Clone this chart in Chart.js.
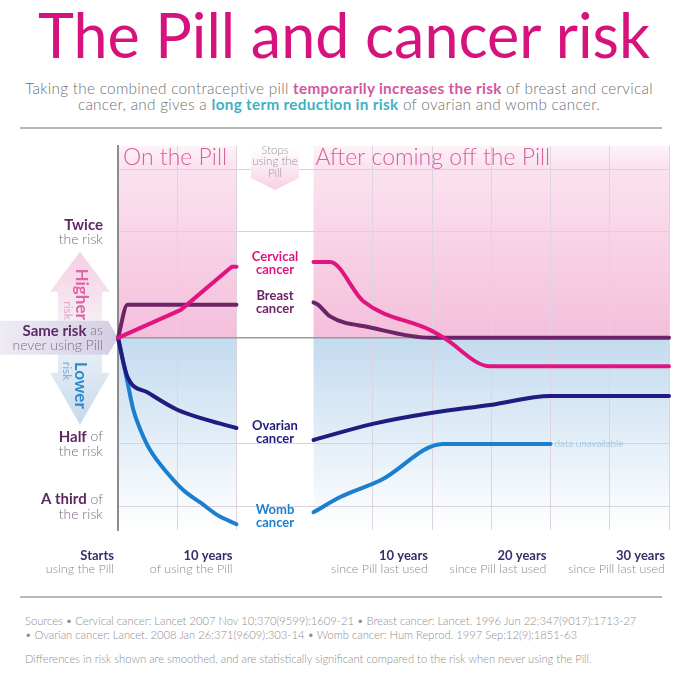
<!DOCTYPE html>
<html>
<head>
<meta charset="utf-8">
<script src="https://cdn.jsdelivr.net/npm/chart.js@4.4.1/dist/chart.umd.min.js"></script>
<style>
  body { margin: 0; background: #fff; font-family: Lato, "Open Sans", sans-serif; }
  #page { position: relative; width: 678px; height: 679px; overflow: hidden; }
  #title { position: absolute; left: 5px; width: 678px; top: -2px; text-align: center; font-size: 61px; color: #d6127d; white-space: nowrap; }
  #intro { position: absolute; left: 0; width: 678px; top: 80px; text-align: center; font-size: 15.3px; letter-spacing: 0.3px; line-height: 16px; color: #6f6f6f; font-weight: 300; }
  #intro .up { color: #d3569e; font-weight: 700; }
  #intro .down { color: #3fb1c5; font-weight: 700; }
  .rule { position: absolute; left: 20px; width: 642px; height: 0; border-top: 2px solid #b8b8b8; }
  #chartBox { position: absolute; left: 0; top: 130px; width: 678px; height: 465px; }
  #notes { position: absolute; left: 25px; top: 614px; font-size: 11.2px; line-height: 14px; color: #8e8e8e; font-weight: 300; }
  #notes p { margin: 0; white-space: nowrap; }
</style>
</head>
<body>
<div id="page">
  <div id="title">The Pill and cancer risk</div>
  <div id="intro">Taking the combined contraceptive pill <span class="up">temporarily increases the risk</span> of breast and cervical<br>cancer, and gives a <span class="down">long term reduction in risk</span> of ovarian and womb cancer.</div>
  <div class="rule" style="top:127px"></div>
  <div id="chartBox"><canvas id="pillChart" width="678" height="465"></canvas></div>
  <div class="rule" style="top:596px"></div>
  <div id="notes">
    <p>Sources • Cervical cancer: Lancet 2007 Nov 10;370(9599):1609-21 • Breast cancer: Lancet. 1996 Jun 22;347(9017):1713-27</p>
    <p>• Ovarian cancer: Lancet. 2008 Jan 26;371(9609):303-14 • Womb cancer: Hum Reprod. 1997 Sep;12(9):1851-63</p>
    <p style="margin-top:10px">Differences in risk shown are smoothed, and are statistically significant compared to the risk when never using the Pill.</p>
  </div>
</div>
<script>
// years on the pill, gap for "stops using", years after stopping
var PILL_YEARS = 10;
var GAP = 6.5;
var AFTER_YEARS = 30;

// relative risk against never using the Pill: [years, risk]
var cervicalOnPill = [[0, 1], [5.3, 1.2], [9.6, 1.59], [10, 1.59]];
var cervicalAfter = [[0, 1.64], [1.4, 1.64], [4.2, 1.27], [9.9, 1.05], [11, 1.0], [14.9, 0.83], [30, 0.83]];
var breastOnPill = [[0, 1], [0.8, 1.24], [10, 1.24]];
var breastAfter = [[0, 1.26], [0.4, 1.24], [1.4, 1.15], [4.8, 1.07], [9.9, 1.0], [30, 1.0]];
var ovarianOnPill = [[0, 1], [0.8, 0.775], [2.5, 0.70], [5, 0.625], [7.5, 0.585], [10, 0.555]];
var ovarianAfter = [[0, 0.513], [5, 0.57], [9.9, 0.612], [14.9, 0.645], [20, 0.684], [30, 0.684]];
var wombOnPill = [[0, 1], [0.76, 0.76], [1.3, 0.624], [1.9, 0.548], [2.7, 0.481], [4.15, 0.414], [5.5, 0.37], [7, 0.34], [8.4, 0.314], [10, 0.296]];
var wombAfter = [[0, 0.32], [2.3, 0.354], [5.7, 0.395], [10.9, 0.5], [20, 0.5]];

var riskTicks = [1 / 3, 0.5, 1, 2, 3];
var riskLabels = [["A third", " of", "the risk"], ["Half", " of", "the risk"], ["Same risk", " as", "never using Pill"], ["Twice", "", "the risk"]];
var riskLabelValues = [1 / 3, 0.5, 1, 2];
var timeTicks = [0, 10, 26.5, 36.5, 46.5];
var timeLabels = [["Starts", "using the Pill"], ["10 years", "of using the Pill"], ["10 years", "since Pill last used"], ["20 years", "since Pill last used"], ["30 years", "since Pill last used"]];

var cancers = [
  {name: "Cervical", color: "#e0157f", on: cervicalOnPill, after: cervicalAfter, straightOn: true},
  {name: "Breast", color: "#6c2367", on: breastOnPill, after: breastAfter},
  {name: "Ovarian", color: "#211a80", on: ovarianOnPill, after: ovarianAfter},
  {name: "Womb", color: "#1b7fcf", on: wombOnPill, after: wombAfter}
];

var FONT = "Lato, 'Open Sans', sans-serif";
function font(w, s) { return w + " " + s + "px " + FONT; }

function line(points, color, offset, straight) {
  var ds = {
    data: points.map(function(p) { return {x: offset + p[0], y: p[1]}; }),
    borderColor: color, borderWidth: 4, pointRadius: 0,
    borderCapStyle: "round", borderJoinStyle: "round", clip: false
  };
  if (straight) ds.tension = 0;
  else ds.cubicInterpolationMode = "monotone";
  return ds;
}

var datasets = [];
cancers.forEach(function(c) {
  datasets.push(line(c.on, c.color, 0, c.straightOn));
  datasets.push(line(c.after, c.color, PILL_YEARS + GAP, false));
});

var gridX = [0, 5, 10, 16.5, 21.5, 26.5, 31.5, 36.5, 41.5, 46.5];

function arrow(ctx, cx, tipY, baseY, headY, c0, c1) {
  var g = ctx.createLinearGradient(0, tipY, 0, baseY);
  g.addColorStop(0, c0); g.addColorStop(1, c1);
  ctx.fillStyle = g;
  ctx.beginPath();
  ctx.moveTo(cx, tipY);
  ctx.lineTo(cx + 30, headY);
  ctx.lineTo(cx + 22, headY);
  ctx.lineTo(cx + 22, baseY);
  ctx.lineTo(cx - 22, baseY);
  ctx.lineTo(cx - 22, headY);
  ctx.lineTo(cx - 30, headY);
  ctx.closePath();
  ctx.fill();
}

function rotated(ctx, x, y, align, parts) {
  ctx.save();
  ctx.translate(x, y);
  ctx.rotate(Math.PI / 2);
  ctx.textAlign = align;
  ctx.textBaseline = "middle";
  parts.forEach(function(p) {
    ctx.font = p.font; ctx.fillStyle = p.color;
    ctx.fillText(p.text, 0, p.dy);
  });
  ctx.restore();
}

var decor = {
  id: "decor",
  beforeDraw: function(chart) {
    var ctx = chart.ctx, a = chart.chartArea, x = chart.scales.x, y = chart.scales.y;
    var y1 = y.getPixelForValue(1);
    ctx.save();
    var g = ctx.createLinearGradient(0, a.top, 0, y1);
    g.addColorStop(0, "#fdf3f8"); g.addColorStop(0.1, "#fbe3ef"); g.addColorStop(1, "#f4bfdb");
    ctx.fillStyle = g;
    ctx.fillRect(a.left, a.top, a.right - a.left, y1 - a.top);
    g = ctx.createLinearGradient(0, y1, 0, a.bottom);
    g.addColorStop(0, "#c3dbef"); g.addColorStop(1, "#ffffff");
    ctx.fillStyle = g;
    ctx.fillRect(a.left, y1, a.right - a.left, a.bottom - y1);
    var b0 = x.getPixelForValue(PILL_YEARS), b1 = x.getPixelForValue(PILL_YEARS + GAP);
    ctx.fillStyle = "#ffffff";
    ctx.fillRect(b0, a.top, b1 - b0, a.bottom - a.top);

    // left side arrows and "same risk" marker
    arrow(ctx, 80, y1 - 86, y1 - 15, y1 - 46, "#f5cfe3", "#f6eef5");
    arrow(ctx, 80, y1 + 87, y1 + 16, y1 + 35, "#c6d9eb", "#e6eef6");
    g = ctx.createLinearGradient(0, 0, a.left, 0);
    g.addColorStop(0, "#eeebf4"); g.addColorStop(1, "#d3cde4");
    ctx.fillStyle = g;
    ctx.beginPath();
    ctx.moveTo(0, y1 - 17); ctx.lineTo(a.left - 10, y1 - 17); ctx.lineTo(a.left, y1);
    ctx.lineTo(a.left - 10, y1 + 17); ctx.lineTo(0, y1 + 17); ctx.closePath();
    ctx.fill();
    rotated(ctx, 81, y1 - 18, "right", [
      {text: "Higher", font: font("bold", 17), color: "#e264a5", dy: 0},
      {text: "risk", font: font("normal", 12), color: "#e9a6c8", dy: 13}
    ]);
    rotated(ctx, 80, y1 + 24, "left", [
      {text: "Lower", font: font("bold", 17), color: "#2c8bcf", dy: 0},
      {text: "risk", font: font("normal", 12), color: "#7fb0d8", dy: 13}
    ]);
    ctx.restore();
  },
  afterDraw: function(chart) {
    var ctx = chart.ctx, a = chart.chartArea, x = chart.scales.x, y = chart.scales.y;
    var b0 = x.getPixelForValue(PILL_YEARS), b1 = x.getPixelForValue(PILL_YEARS + GAP);
    var mid = (b0 + b1) / 2;
    ctx.save();
    ctx.textBaseline = "middle";

    // "Stops using the Pill" marker
    var g = ctx.createLinearGradient(0, a.top + 2, 0, a.top + 44);
    g.addColorStop(0, "#ffffff"); g.addColorStop(1, "#f7d0e3");
    ctx.fillStyle = g;
    ctx.beginPath();
    ctx.moveTo(mid - 24, a.top + 2); ctx.lineTo(mid + 24, a.top + 2); ctx.lineTo(mid + 24, a.top + 32);
    ctx.lineTo(mid, a.top + 44); ctx.lineTo(mid - 24, a.top + 32); ctx.closePath();
    ctx.fill();
    ctx.textAlign = "center";
    ctx.font = font("300", 11.5);
    ctx.fillStyle = "#979797";
    ["Stops", "using the", "Pill"].forEach(function(t, i) { ctx.fillText(t, mid, a.top + 4 + i * 11.5); });

    // period headings
    ctx.textAlign = "left";
    ctx.font = font("300", 23);
    ctx.fillStyle = "#d7609f";
    ctx.fillText("On the Pill", x.getPixelForValue(0) + 5, a.top + 12);
    ctx.fillText("After coming off the Pill", b1 + 2, a.top + 12);

    // cancer names between the two periods
    cancers.forEach(function(c) {
      var v = Math.sqrt(c.on[c.on.length - 1][1] * c.after[0][1]);
      var py = y.getPixelForValue(v);
      ctx.font = font("bold", 13);
      ctx.fillStyle = c.color;
      ctx.textAlign = "center";
      ctx.fillText(c.name, mid, py - 8);
      ctx.fillText("cancer", mid, py + 5);
    });

    // womb data stops early
    var last = wombAfter[wombAfter.length - 1];
    ctx.textAlign = "left";
    ctx.font = font("300", 10);
    ctx.fillStyle = "#8db6d7";
    ctx.fillText("data unavailable", x.getPixelForValue(PILL_YEARS + GAP + last[0]) + 4, y.getPixelForValue(last[1]));

    // risk labels on the left
    riskLabels.forEach(function(l, i) {
      var py = y.getPixelForValue(riskLabelValues[i]);
      var right = a.left - 15;
      ctx.textAlign = "right";
      ctx.font = font("300", 14);
      var w = ctx.measureText(l[1]).width;
      ctx.fillStyle = "#7d6a83";
      ctx.fillText(l[1], right, py - 7);
      ctx.fillText(l[2], right, py + 8);
      ctx.font = font("bold", 15);
      ctx.fillStyle = "#5e2862";
      ctx.fillText(l[0], right - w, py - 7);
    });

    // time labels under the chart
    timeTicks.forEach(function(t, i) {
      var px = x.getPixelForValue(t) - 4;
      ctx.textAlign = "right";
      ctx.font = font("bold", 13);
      ctx.fillStyle = "#3b2d6b";
      ctx.fillText(timeLabels[i][0], px, a.bottom + 26);
      ctx.font = font("300", 12.5);
      ctx.fillStyle = "#8a8a8a";
      ctx.fillText(timeLabels[i][1], px, a.bottom + 39);
    });
    ctx.restore();
  }
};

new Chart(document.getElementById("pillChart"), {
  type: "line",
  data: {datasets: datasets},
  options: {
    responsive: false,
    animation: false,
    layout: {padding: {left: 118, top: 16, right: 9, bottom: 65}},
    plugins: {legend: {display: false}, tooltip: {enabled: false}},
    scales: {
      x: {
        type: "linear", min: 0, max: PILL_YEARS + GAP + AFTER_YEARS,
        afterBuildTicks: function(s) { s.ticks = gridX.map(function(v) { return {value: v}; }); },
        ticks: {display: false},
        grid: {drawTicks: false, color: function(c) { return (c.tick.value === 0 || c.tick.value === PILL_YEARS + GAP) ? "rgba(0,0,0,0)" : "#ddd4e2"; }},
        border: {display: false}
      },
      y: {
        type: "logarithmic", min: 0.285, max: 3.5,
        afterBuildTicks: function(s) { s.ticks = riskTicks.map(function(v) { return {value: v}; }); },
        ticks: {display: false},
        grid: {
          drawTicks: false,
          color: function(c) { return c.tick.value === 1 ? "#9a9a9a" : "#d9d2dd"; },
          lineWidth: function(c) { return c.tick.value === 1 ? 1.5 : 1; }
        },
        border: {color: "#8c8c8c", width: 2}
      }
    }
  },
  plugins: [decor]
});
</script>
</body>
</html>
